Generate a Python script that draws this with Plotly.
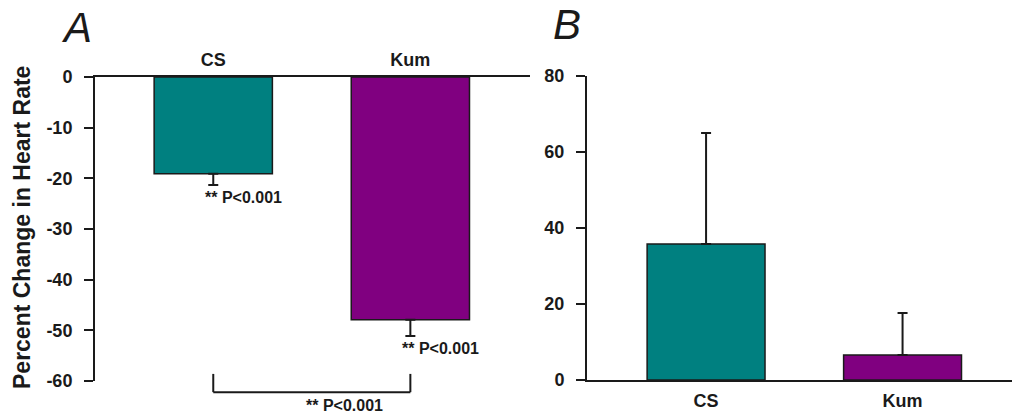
import plotly.graph_objects as go

# ---- data ----
categories = ["CS", "Kum"]
hr_change = [-19.1, -47.9]        # panel A, percent change in heart rate
hr_change_sem = [2.2, 3.2]
panel_b_values = [35.8, 6.6]      # panel B
panel_b_sem = [29.2, 11.0]
bar_colors = ["#008080", "#800080"]
p_label = "** P<0.001"
a_ticks = [0, -10, -20, -30, -40, -50, -60]
a_tick_text = ["0", "-10", "-20", "-30", "-40", "-50", "-60"]
b_ticks = [0, 20, 40, 60, 80]
b_tick_text = ["0", "20", "40", "60", "80"]

# ---- layout geometry ----
W, H = 1012, 415
A_dom_x = [95 / W, 530 / W]
A_dom_y = [(H - 381) / H, (H - 77) / H]
B_dom_x = [587 / W, 1.0]
B_dom_y = [(H - 380) / H, (H - 76) / H]
A_xrange = [-0.6, 1.607]
A_yrange = [-60, 0]
B_xrange = [-0.606, 1.557]
B_yrange = [0, 80]

FONT = "Liberation Sans, Arial, sans-serif"
INK = "#1a1a1a"


def a_x_paper(v):
    return A_dom_x[0] + (v - A_xrange[0]) / (A_xrange[1] - A_xrange[0]) * (A_dom_x[1] - A_dom_x[0])


def a_y_paper(v):
    return A_dom_y[0] + (v - A_yrange[0]) / (A_yrange[1] - A_yrange[0]) * (A_dom_y[1] - A_dom_y[0])


fig = go.Figure()

fig.add_trace(go.Bar(
    x=[0, 1], y=hr_change, width=0.6,
    marker=dict(color=bar_colors, line=dict(color=INK, width=1.5)),
    error_y=dict(type="data", symmetric=False, array=[0, 0], arrayminus=hr_change_sem,
                 color=INK, thickness=2, width=5),
    xaxis="x", yaxis="y", showlegend=False,
))
fig.add_trace(go.Bar(
    x=[0, 1], y=panel_b_values, width=0.6,
    marker=dict(color=bar_colors, line=dict(color=INK, width=1.5)),
    error_y=dict(type="data", symmetric=False, array=panel_b_sem, arrayminus=[0, 0],
                 color=INK, thickness=2, width=5),
    xaxis="x2", yaxis="y2", showlegend=False,
))

tick_font = dict(family=FONT, size=18, color=INK, weight="bold")
common = dict(showline=True, linecolor=INK, linewidth=2, showgrid=False, zeroline=False,
              tickfont=tick_font, automargin=False)

fig.update_layout(
    width=W, height=H, autosize=False,
    margin=dict(l=0, r=0, t=0, b=0),
    paper_bgcolor="white", plot_bgcolor="white",
    xaxis=dict(domain=A_dom_x, range=A_xrange, anchor="y", side="top",
               tickvals=[0, 1], ticktext=categories, ticks="", ticklabelstandoff=2, **common),
    yaxis=dict(domain=A_dom_y, range=A_yrange, anchor="x",
               tickvals=a_ticks, ticktext=a_tick_text, ticks="outside", ticklen=9, tickwidth=2,
               tickcolor=INK, ticklabelstandoff=8, **common),
    xaxis2=dict(domain=B_dom_x, range=B_xrange, anchor="y2",
                tickvals=[0, 1], ticktext=categories, ticks="", ticklabelstandoff=3, **common),
    yaxis2=dict(domain=B_dom_y, range=B_yrange, anchor="x2",
                tickvals=b_ticks, ticktext=b_tick_text, ticks="outside", ticklen=9, tickwidth=2,
                tickcolor=INK, ticklabelstandoff=8, **common),
)

ann_font = dict(family=FONT, size=16, color=INK, weight="bold")
annotations = []
# p-value labels under each error bar in panel A
for i, (v, s) in enumerate(zip(hr_change, hr_change_sem)):
    annotations.append(dict(x=i, y=v - s, xref="x", yref="y", text=p_label,
                            showarrow=False, xanchor="left", yanchor="top",
                            xshift=-10, yshift=-2, font=ann_font))

# bracket between the two bars (panel A)
bracket_top, bracket_bottom = -58.6, -62.2
x0p, x1p = a_x_paper(0), a_x_paper(1)
ytp, ybp = a_y_paper(bracket_top), a_y_paper(bracket_bottom)
shapes = [
    dict(type="line", xref="paper", yref="paper", x0=x0p, x1=x0p, y0=ytp, y1=ybp,
         line=dict(color=INK, width=2)),
    dict(type="line", xref="paper", yref="paper", x0=x1p, x1=x1p, y0=ytp, y1=ybp,
         line=dict(color=INK, width=2)),
    dict(type="line", xref="paper", yref="paper", x0=x0p, x1=x1p, y0=ybp, y1=ybp,
         line=dict(color=INK, width=2)),
]
annotations.append(dict(x=a_x_paper(0.667), y=a_y_paper(-64.9), xref="paper", yref="paper",
                        text=p_label, showarrow=False, xanchor="center", yanchor="middle",
                        font=ann_font))

# y-axis title of panel A
annotations.append(dict(x=22 / W, y=(H - 228) / H, xref="paper", yref="paper",
                        text="Percent Change in Heart Rate", textangle=-90, showarrow=False,
                        xanchor="center", yanchor="middle",
                        font=dict(family=FONT, size=23, color=INK, weight="bold")))

# panel letters
panel_font = dict(family=FONT, size=42, color=INK, style="italic")
annotations.append(dict(x=76 / W, y=(H - 27) / H, xref="paper", yref="paper", text="A",
                        showarrow=False, xanchor="center", yanchor="middle", font=panel_font))
annotations.append(dict(x=567 / W, y=(H - 25) / H, xref="paper", yref="paper", text="B",
                        showarrow=False, xanchor="center", yanchor="middle", font=panel_font))

fig.update_layout(annotations=annotations, shapes=shapes)

fig.write_html("out.html", config={"displayModeBar": False},
               post_script="document.body.style.margin='0px';document.body.style.overflow='hidden';")
